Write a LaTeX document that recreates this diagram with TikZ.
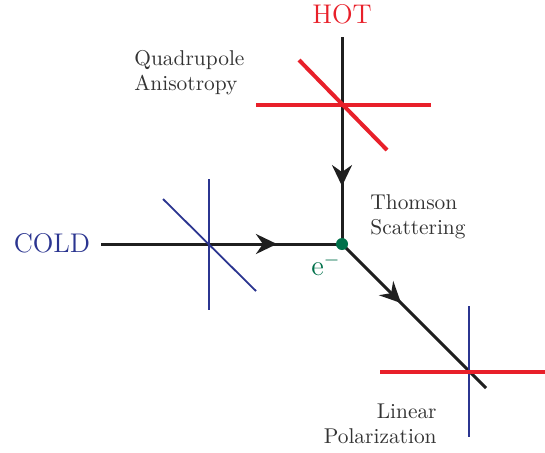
\documentclass[tikz,border=0pt]{standalone}
\usetikzlibrary{arrows.meta,decorations.markings}
\definecolor{hotred}{HTML}{E8202A}
\definecolor{coldblue}{HTML}{2B3590}
\definecolor{egreen}{HTML}{00704A}
\definecolor{txtgray}{HTML}{333333}

\begin{document}
\begin{tikzpicture}[x=0.5pt, y=-0.5pt,
    beam/.style={line width=1.5pt, black!88},
    midarrow/.style={postaction={decorate}, decoration={markings,
        mark=at position #1 with {\arrow{Stealth[length=10.5pt,width=10pt,inset=3.5pt]}}}},
    hotpol/.style={line width=2pt, hotred},
    coldpol/.style={line width=0.9pt, coldblue},
    lbl/.style={text=txtgray, inner sep=0pt, font=\fontsize{10.7}{12.5}\selectfont},
    big/.style={font=\fontsize{13.5}{16}\selectfont}]
    \useasboundingbox (0,0) rectangle (545,452);

    % scattering point and beam ends
    \node[circle, inner sep=0pt, minimum size=6pt] (e) at (342,244) {};
    \coordinate (top) at (342,37);
    \coordinate (left) at (101,244);
    \coordinate (end) at (486,388);

    % polarization centres
    \coordinate (hotc) at (342,105);
    \coordinate (coldc) at (209,244);
    \coordinate (linc) at (469,372);

    % incoming and outgoing beams
    \draw[beam, midarrow=0.72] (top) -- (e.center);
    \draw[beam, midarrow=0.73] (left) -- (e.center);
    \draw[beam, midarrow=0.41] (e.center) -- (end);
    \fill[egreen] (e) circle (3pt);

    % quadrupole: hot and cold directions
    \draw[hotpol] ([shift={(-86,0)}]hotc) -- ([shift={(89,0)}]hotc);
    \draw[hotpol] ([shift={(-43,-45)}]hotc) -- ([shift={(45,45)}]hotc);
    \draw[coldpol] ([shift={(0,-65)}]coldc) -- ([shift={(0,66)}]coldc);
    \draw[coldpol] ([shift={(-46,-45)}]coldc) -- ([shift={(47,47)}]coldc);

    % linear polarization
    \draw[coldpol] ([shift={(0,-66)}]linc) -- ([shift={(0,65)}]linc);
    \draw[hotpol] ([shift={(-89,0)}]linc) -- ([shift={(76,0)}]linc);

    % labels
    \node[big, text=hotred] (hot) at (342,14) {HOT};
    \node[big, text=coldblue] (cold) at (52,243) {COLD};
    \node[big, text=egreen, font=\fontsize{14.4}{17}\selectfont] (elec) at (326,265) {e$^-$};
    \node[lbl, align=left, anchor=west] (quad) at (134,73) {Quadrupole\\Anisotropy};
    \node[lbl, align=left, anchor=west] (thom) at (370,217) {Thomson\\Scattering};
    \node[lbl, align=right, anchor=east] (lin) at (437,424) {Linear\hspace{2.5pt}\\Polarization};
\end{tikzpicture}
\end{document}
